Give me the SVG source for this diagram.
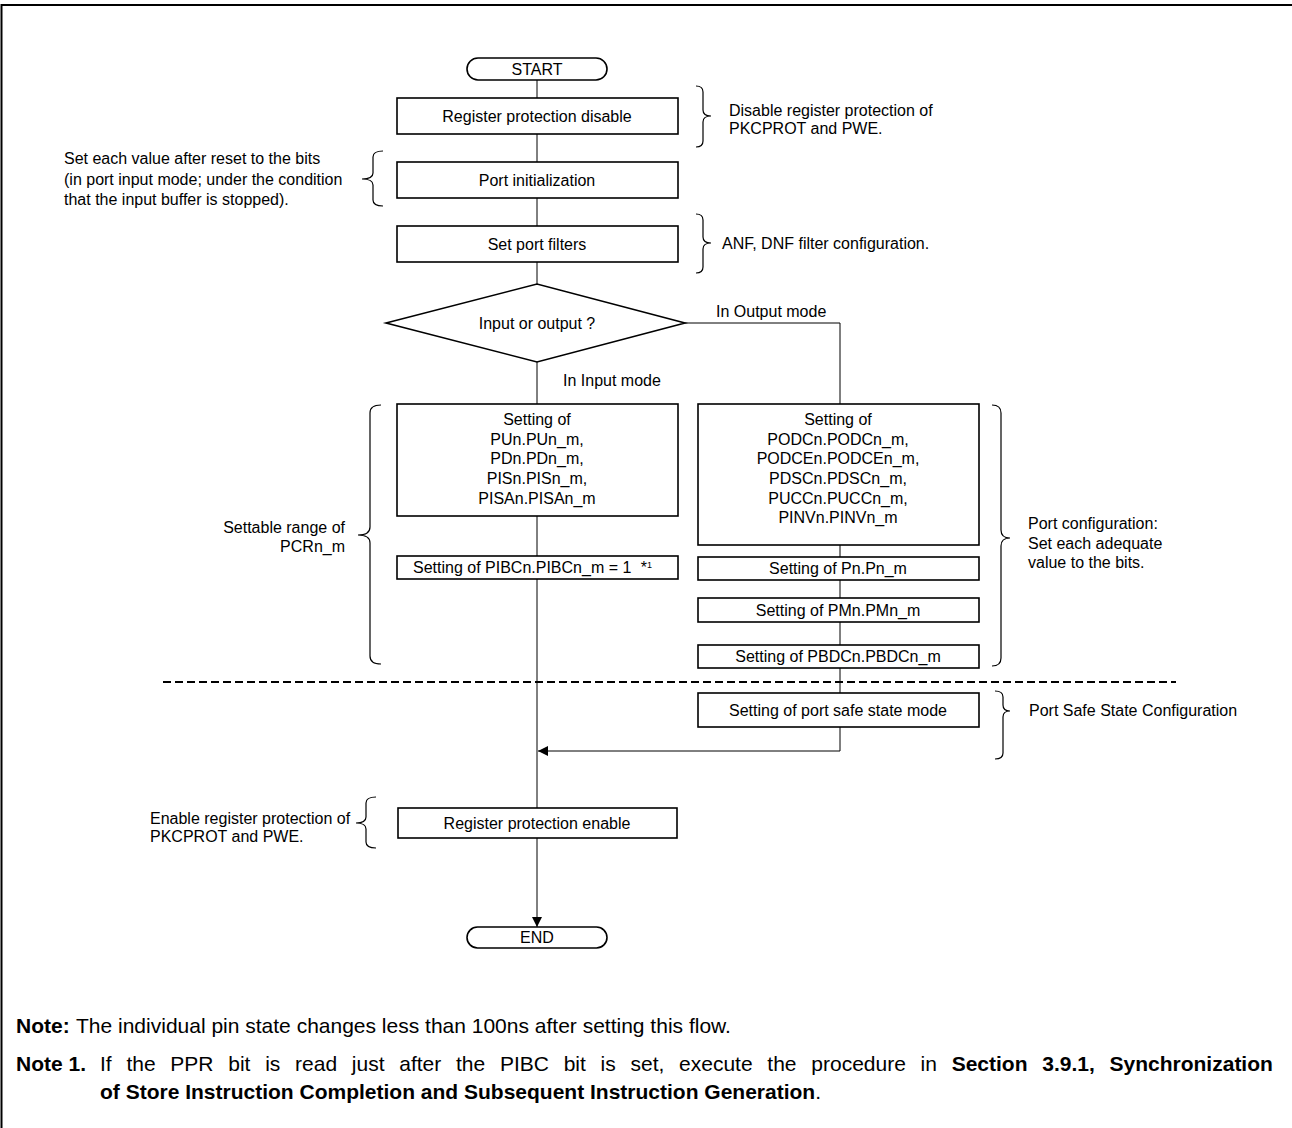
<svg xmlns="http://www.w3.org/2000/svg" width="1292" height="1128" viewBox="0 0 1292 1128">
<style>
.t{font-family:"Liberation Sans",Arial,sans-serif;font-size:16px;fill:#000}
.c{text-anchor:middle}
.e{text-anchor:end}
.n{font-family:"Liberation Sans",Arial,sans-serif;font-size:21px;fill:#000}
.b{font-weight:bold}
.box{fill:#fff;stroke:#000;stroke-width:1.6}
.ln{fill:none;stroke:#000;stroke-width:1}
.br{fill:none;stroke:#000;stroke-width:1.2}
</style>
<defs>
<marker id="ah" viewBox="0 0 10 10" refX="10" refY="5" markerWidth="12" markerHeight="10" markerUnits="userSpaceOnUse" orient="auto">
<path d="M0,0 L10,5 L0,10 z" fill="#000"/>
</marker>
</defs>
<rect width="1292" height="1128" fill="#fff"/>
<path d="M1.5,1128 L1.5,5 L1292,5" fill="none" stroke="#000" stroke-width="2"/>

<g id="connectors">
<path class="ln" d="M537,80 V98 M537,134 V162 M537,198 V226 M537,262 V284 M537,362 V404 M537,516 V556 M537,579 V808"/>
<path class="ln" d="M537,838 V927" marker-end="url(#ah)"/>
<path class="ln" d="M685,323 H840 V404 M840,545 V557 M840,580 V598 M840,622 V645 M840,668 V693 M840,727 V751"/>
<path class="ln" d="M840,751 H538" marker-end="url(#ah)"/>
<path d="M163,682 H1176" fill="none" stroke="#000" stroke-width="2" stroke-dasharray="8,4"/>
</g>

<g id="start">
<rect class="box" x="467" y="58" width="140" height="22" rx="11"/>
<text class="t c" x="537" y="75">START</text>
</g>
<g id="reg-disable">
<rect class="box" x="397" y="98" width="281" height="36"/>
<text class="t c" x="537" y="122">Register protection disable</text>
</g>
<g id="reg-disable-note">
<path class="br" d="M696,86 Q703,86 703,92 L703,110 Q703,116 711,116 Q703,116 703,122 L703,141 Q703,147 696,147"/>
<text class="t" x="729" y="116">Disable register protection of</text>
<text class="t" x="729" y="134">PKCPROT and PWE.</text>
</g>
<g id="port-init">
<rect class="box" x="397" y="162" width="281" height="36"/>
<text class="t c" x="537" y="186">Port initialization</text>
</g>
<g id="port-init-note">
<path class="br" d="M383,151 Q373,151 373,157 L373,173 Q373,179 362,179 Q373,179 373,185 L373,200 Q373,206 383,206"/>
<text class="t" x="64" y="164">Set each value after reset to the bits</text>
<text class="t" x="64" y="185">(in port input mode; under the condition</text>
<text class="t" x="64" y="205">that the input buffer is stopped).</text>
</g>
<g id="port-filters">
<rect class="box" x="397" y="226" width="281" height="36"/>
<text class="t c" x="537" y="250">Set port filters</text>
</g>
<g id="port-filters-note">
<path class="br" d="M696,214 Q703,214 703,220 L703,237 Q703,243 711,243 Q703,243 703,249 L703,267 Q703,273 696,273"/>
<text class="t" x="722" y="249">ANF, DNF filter configuration.</text>
</g>
<g id="decision">
<polygon class="box" points="386,323 537,284 685,323 537,362"/>
<text class="t c" x="537" y="329">Input or output ?</text>
<text class="t" x="716" y="317">In Output mode</text>
<text class="t" x="563" y="386">In Input mode</text>
</g>
<g id="input-settings">
<rect class="box" x="397" y="404" width="281" height="112"/>
<text class="t c" x="537" y="425">Setting of</text>
<text class="t c" x="537" y="445">PUn.PUn_m,</text>
<text class="t c" x="537" y="464">PDn.PDn_m,</text>
<text class="t c" x="537" y="484">PISn.PISn_m,</text>
<text class="t c" x="537" y="504">PISAn.PISAn_m</text>
</g>
<g id="pibc">
<rect class="box" x="397" y="556" width="281" height="23"/>
<text class="t" x="413" y="573">Setting of PIBCn.PIBCn_m = 1 <tspan dx="5">*</tspan><tspan dy="-5" font-size="9">1</tspan></text>
</g>
<g id="pcr-note">
<path class="br" d="M381,405 Q370,405 370,413 L370,527 Q370,535 358,535 Q370,535 370,543 L370,656 Q370,664 381,664"/>
<text class="t e" x="345" y="533">Settable range of</text>
<text class="t e" x="345" y="552">PCRn_m</text>
</g>
<g id="output-settings">
<rect class="box" x="698" y="404" width="281" height="141"/>
<text class="t c" x="838" y="425">Setting of</text>
<text class="t c" x="838" y="445">PODCn.PODCn_m,</text>
<text class="t c" x="838" y="464">PODCEn.PODCEn_m,</text>
<text class="t c" x="838" y="484">PDSCn.PDSCn_m,</text>
<text class="t c" x="838" y="504">PUCCn.PUCCn_m,</text>
<text class="t c" x="838" y="523">PINVn.PINVn_m</text>
</g>
<g id="pn">
<rect class="box" x="698" y="557" width="281" height="23"/>
<text class="t c" x="838" y="574">Setting of Pn.Pn_m</text>
</g>
<g id="pmn">
<rect class="box" x="698" y="598" width="281" height="24"/>
<text class="t c" x="838" y="616">Setting of PMn.PMn_m</text>
</g>
<g id="pbdc">
<rect class="box" x="698" y="645" width="281" height="23"/>
<text class="t c" x="838" y="662">Setting of PBDCn.PBDCn_m</text>
</g>
<g id="port-config-note">
<path class="br" d="M992,405 Q1001,405 1001,413 L1001,530 Q1001,538 1010,538 Q1001,538 1001,546 L1001,658 Q1001,666 992,666"/>
<text class="t" x="1028" y="529">Port configuration:</text>
<text class="t" x="1028" y="549">Set each adequate</text>
<text class="t" x="1028" y="568">value to the bits.</text>
</g>
<g id="safe-state">
<rect class="box" x="698" y="693" width="281" height="34"/>
<text class="t c" x="838" y="716">Setting of port safe state mode</text>
</g>
<g id="safe-state-note">
<path class="br" d="M995,691 Q1003,691 1003,697 L1003,705 Q1003,711 1010,711 Q1003,711 1003,717 L1003,753 Q1003,759 995,759"/>
<text class="t" x="1029" y="716">Port Safe State Configuration</text>
</g>
<g id="reg-enable">
<rect class="box" x="398" y="808" width="279" height="30"/>
<text class="t c" x="537" y="829">Register protection enable</text>
</g>
<g id="reg-enable-note">
<path class="br" d="M376,797 Q366,797 366,803 L366,817 Q366,823 356,823 Q366,823 366,829 L366,842 Q366,848 376,848"/>
<text class="t" x="150" y="824">Enable register protection of</text>
<text class="t" x="150" y="842">PKCPROT and PWE.</text>
</g>
<g id="end">
<rect class="box" x="467" y="927" width="140" height="21" rx="10.5"/>
<text class="t c" x="537" y="943">END</text>
</g>
<g id="notes">
<text class="n b" x="16" y="1033">Note:</text>
<text class="n" x="76" y="1033">The individual pin state changes less than 100ns after setting this flow.</text>
<text class="n b" x="16" y="1071">Note 1.</text>
<text class="n" x="100" y="1071" word-spacing="8.9">If the PPR bit is read just after the PIBC bit is set, execute the procedure in <tspan class="b">Section 3.9.1, Synchronization</tspan></text>
<text class="n" x="100" y="1099"><tspan class="b">of Store Instruction Completion and Subsequent Instruction Generation</tspan>.</text>
</g>
</svg>
